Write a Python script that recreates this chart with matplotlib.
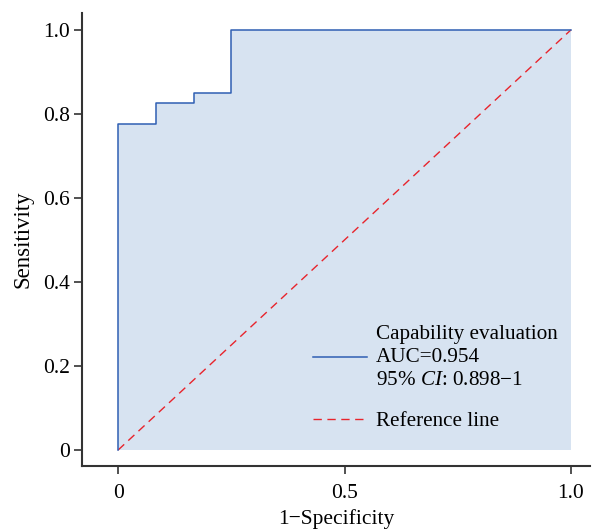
import matplotlib
matplotlib.use("Agg")
import matplotlib.pyplot as plt
import numpy as np

# ROC data (step points)
fpr = [0.0, 0.0, 1/12, 1/12, 2/12, 2/12, 0.25, 0.25, 1.0]
tpr = [0.0, 0.775, 0.775, 0.825, 0.825, 0.85, 0.85, 1.0, 1.0]
ref_x = [0.0, 1.0]
ref_y = [0.0, 1.0]
auc_label = "Capability evaluation\nAUC=0.954\n95% $\\mathit{CI}$: 0.898\u22121"
ref_label = "Reference line"
yticks = [0, 0.2, 0.4, 0.6, 0.8, 1.0]
ytick_labels = ["0", "0.2", "0.4", "0.6", "0.8", "1.0"]
xticks = [0, 0.5, 1.0]
xtick_labels = ["0", "0.5", "1.0"]

plt.rcParams["font.family"] = ["Liberation Serif", "DejaVu Serif"]
plt.rcParams["mathtext.fontset"] = "custom"
plt.rcParams["mathtext.rm"] = "Liberation Serif"
plt.rcParams["mathtext.it"] = "Liberation Serif:italic"

fig = plt.figure(figsize=(6.02, 5.31), dpi=100)
ax = fig.add_axes([0.136, 0.1224, 0.844, 0.853])

ax.fill_between(fpr, tpr, 0, color="#d7e3f1", linewidth=0, zorder=1)
ax.plot(fpr, tpr, color="#2f5fb3", lw=1.1, label=auc_label, zorder=3)
ax.plot(ref_x, ref_y, color="#e8242c", lw=1.0, dashes=(6, 4), label=ref_label, zorder=2)

ax.set_xlim(-0.08, 1.042)
ax.set_ylim(-0.038, 1.04)
ax.set_yticks(yticks)
ax.set_yticklabels(ytick_labels)
ax.set_xticks(xticks)
ax.set_xticklabels(xtick_labels)
ax.tick_params(axis="both", direction="out", length=6, width=1.2, labelsize=15.5, color="#333333")
ax.tick_params(axis="x", pad=7)
ax.tick_params(axis="y", pad=2.5)
for s in ["top", "right"]:
    ax.spines[s].set_visible(False)
for s in ["left", "bottom"]:
    ax.spines[s].set_linewidth(1.5)
    ax.spines[s].set_color("#333333")

ax.set_xlabel("1\u2212Specificity", fontsize=15.5, labelpad=4)
ax.set_ylabel("Sensitivity", fontsize=16.5, labelpad=7)

leg = ax.legend(loc="lower left", bbox_to_anchor=(0.43, 0.045), bbox_transform=ax.transData,
                frameon=False, fontsize=15.2, handlelength=2.55, handletextpad=0.45,
                borderpad=0, borderaxespad=0, labelspacing=1.03)
for t in leg.get_texts():
    t.set_linespacing(1.26)

fig.savefig("out.png", dpi=100)
